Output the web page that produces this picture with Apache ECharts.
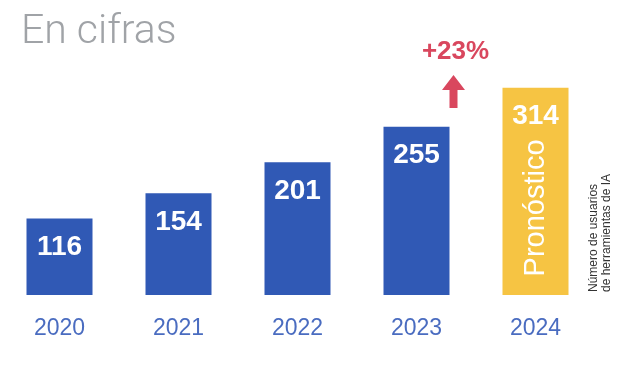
<!DOCTYPE html>
<html>
<head>
<meta charset="utf-8">
<script src="https://cdn.jsdelivr.net/npm/echarts@6/dist/echarts.min.js"></script>
<style>html,body{margin:0;padding:0;background:#fff}#c{width:643px;height:370px}</style>
</head>
<body>
<div id="c"></div>
<script>
const years = ['2020', '2021', '2022', '2023', '2024'];
const actualValues = [116, 154, 201, 255, null];
const forecastValues = [null, null, null, null, 314];
const forecastLabel = 'Pronóstico';
const growthLabel = '+23%';
const titleText = 'En cifras';
const noteText = 'Número de usuarios\nde herramientas de IA';

const BLUE = '#3059b5', YELLOW = '#f6c443', RED = '#d9475e';
const chart = echarts.init(document.getElementById('c'));
const valueLabel = {
  show: true, position: 'insideTop', distance: 15, color: '#fff',
  fontSize: 28, fontWeight: 'bold', fontFamily: 'Liberation Sans, Arial'
};
chart.setOption({
  animation: false,
  title: {
    text: titleText, left: 16, top: 7,
    textStyle: { color: '#a0a3a7', fontSize: 41, fontWeight: 300, fontFamily: 'Roboto' }
  },
  grid: { left: 0, right: 48, top: 31, bottom: 75 },
  xAxis: {
    type: 'category', data: years,
    axisLine: { show: false }, axisTick: { show: false },
    axisLabel: { color: '#4a6cc0', fontSize: 23, margin: 22, fontFamily: 'Liberation Sans, Arial' }
  },
  yAxis: { type: 'value', min: 0, max: 400, show: false, splitLine: { show: false } },
  series: [
    {
      type: 'bar', data: actualValues, barWidth: 66, barGap: '-100%',
      itemStyle: { color: BLUE }, label: valueLabel
    },
    {
      type: 'bar', data: forecastValues, barWidth: 66, barGap: '-100%',
      itemStyle: { color: YELLOW }, label: valueLabel
    },
    {
      type: 'bar', data: forecastValues, barWidth: 66, barGap: '-100%',
      itemStyle: { color: 'transparent' }, silent: true,
      label: {
        show: true, formatter: forecastLabel, position: ['50%', '58%'],
        rotate: 90, align: 'center', verticalAlign: 'middle',
        color: '#fff', fontSize: 29, fontFamily: 'Liberation Sans, Arial'
      }
    }
  ]
});

// annotation: arrow + growth label to the right of 2023
const p3 = chart.convertToPixel({ xAxisIndex: 0, yAxisIndex: 0 }, [3, 0]);
const ax = p3[0] + 37;
chart.setOption({
  graphic: [
    {
      type: 'polygon',
      shape: { points: [[ax, 75], [ax + 11.5, 90], [ax + 4, 90], [ax + 4, 108], [ax - 4, 108], [ax - 4, 90], [ax - 11.5, 90]] },
      style: { fill: RED }
    },
    {
      type: 'text', x: ax + 2, y: 52,
      style: { text: growthLabel, fill: RED, fontSize: 26, fontWeight: 'bold', fontFamily: 'Liberation Sans, Arial', align: 'center', verticalAlign: 'middle' }
    },
    {
      type: 'text', x: 600, y: 292, rotation: Math.PI / 2,
      style: { text: noteText, fill: '#333', fontSize: 12, lineHeight: 13, fontFamily: 'Liberation Sans, Arial', align: 'left', verticalAlign: 'middle' }
    }
  ]
});
</script>
</body>
</html>
